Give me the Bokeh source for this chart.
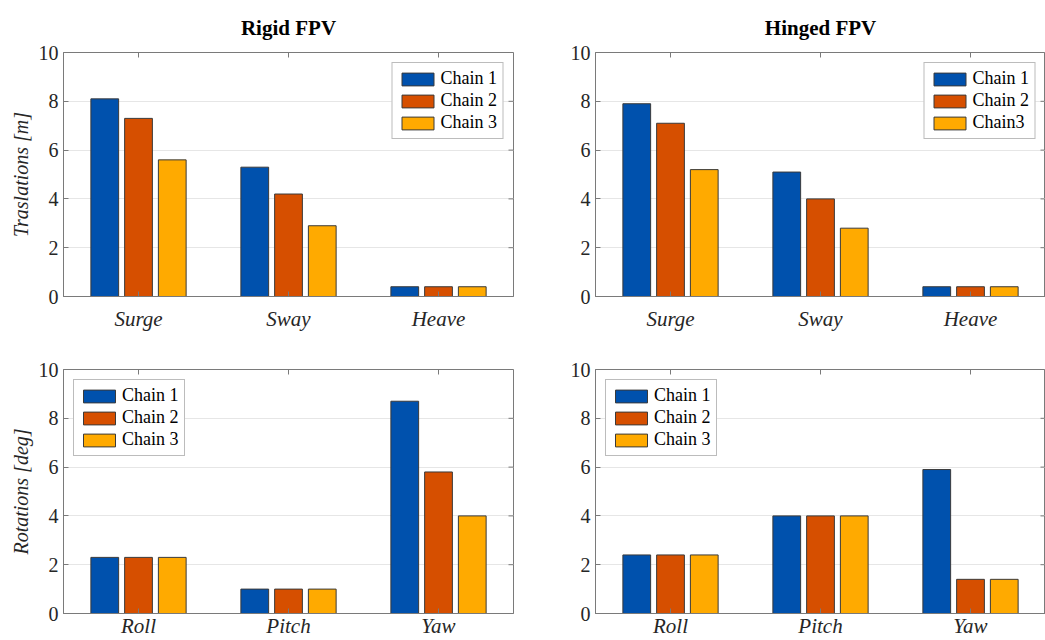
import math
from bokeh.plotting import figure
from bokeh.layouts import gridplot
from bokeh.models import (ColumnDataSource, FactorRange, Range1d, Legend, LegendItem,
                          FixedTicker)
from bokeh.transform import dodge
from bokeh.embed import file_html
from bokeh.resources import INLINE

# ---- data ----
trans_cats = ["Surge", "Sway", "Heave"]
rot_cats = ["Roll", "Pitch", "Yaw"]

rigid_trans_c1 = [8.1, 5.3, 0.4]
rigid_trans_c2 = [7.3, 4.2, 0.4]
rigid_trans_c3 = [5.6, 2.9, 0.4]

hinged_trans_c1 = [7.9, 5.1, 0.4]
hinged_trans_c2 = [7.1, 4.0, 0.4]
hinged_trans_c3 = [5.2, 2.8, 0.4]

rigid_rot_c1 = [2.3, 1.0, 8.7]
rigid_rot_c2 = [2.3, 1.0, 5.8]
rigid_rot_c3 = [2.3, 1.0, 4.0]

hinged_rot_c1 = [2.4, 4.0, 5.9]
hinged_rot_c2 = [2.4, 4.0, 1.4]
hinged_rot_c3 = [2.4, 4.0, 1.4]

y_ticks = [0, 2, 4, 6, 8, 10]
labels_std = ["Chain 1", "Chain 2", "Chain 3"]
labels_hinged_top = ["Chain 1", "Chain 2", "Chain3"]

COLORS = ["#0051AD", "#D64F00", "#FFAA00"]
FONT = "Liberation Serif"
TXT = "#262626"
FRAME = "#7a7a7a"


def make_panel(cats, c1, c2, c3, legend_labels, legend_loc, width, height,
               border_left, border_right, border_top, border_bottom,
               title=None, ylabel=None, xlabel_standoff=9):
    src = ColumnDataSource(dict(cat=cats, c1=c1, c2=c2, c3=c3))
    p = figure(x_range=FactorRange(*cats, range_padding=0), y_range=Range1d(0, 10),
               width=width, height=height, output_backend="svg",
               toolbar_location=None, min_border_left=border_left,
               min_border_right=border_right, min_border_top=border_top,
               min_border_bottom=border_bottom)
    p.background_fill_color = "white"
    p.border_fill_color = "white"
    p.outline_line_color = FRAME
    p.outline_line_width = 1

    rs = []
    offs = [-0.225, 0.0, 0.225]
    for key, off, col in zip(["c1", "c2", "c3"], offs, COLORS):
        r = p.vbar(x=dodge("cat", off, range=p.x_range), top=key, width=0.185,
                   bottom=0, source=src, fill_color=col, line_color="#3a3a3a",
                   line_width=1)
        rs.append(r)

    # grid
    p.xgrid.grid_line_color = None
    p.ygrid.grid_line_color = "#e6e6e6"
    p.ygrid.grid_line_width = 1
    p.ygrid.ticker = FixedTicker(ticks=[2, 4, 6, 8])

    # y axis
    ya = p.yaxis[0]
    ya.ticker = FixedTicker(ticks=y_ticks)
    ya.major_tick_in = 5
    ya.major_tick_out = 0
    ya.minor_tick_in = 0
    ya.minor_tick_out = 0
    ya.axis_line_color = FRAME
    ya.major_tick_line_color = FRAME
    ya.major_label_text_font = FONT
    ya.major_label_text_font_size = "20px"
    ya.major_label_text_color = TXT
    ya.major_label_standoff = 5
    if ylabel:
        ya.axis_label = ylabel
        ya.axis_label_text_font = FONT
        ya.axis_label_text_font_style = "italic"
        ya.axis_label_text_font_size = "20px"
        ya.axis_label_text_color = TXT
        ya.axis_label_standoff = 4

    # x axis
    xa = p.xaxis[0]
    xa.major_tick_in = 5
    xa.major_tick_out = 0
    xa.axis_line_color = FRAME
    xa.major_tick_line_color = FRAME
    xa.major_label_text_font = FONT
    xa.major_label_text_font_style = "italic"
    xa.major_label_text_font_size = "21px"
    xa.major_label_text_color = TXT
    xa.major_label_standoff = xlabel_standoff

    # box ticks on top and right edges (inward, screen-length rays)
    p.ray(x=cats, y=[y_ticks[-1]] * len(cats), length=5, length_units="screen",
          angle=-math.pi / 2, line_color=FRAME, line_width=1)
    p.ray(x=[len(cats)] * len(y_ticks), y=y_ticks, length=5, length_units="screen",
          angle=math.pi, line_color=FRAME, line_width=1)

    if title:
        p.title.text = title
        p.title.text_font = FONT
        p.title.text_font_style = "bold"
        p.title.text_font_size = "21px"
        p.title.text_color = "black"
        p.title.align = "center"
        p.title.standoff = 25

    items = [LegendItem(label=lab, renderers=[r]) for lab, r in zip(legend_labels, rs)]
    leg = Legend(items=items, location=legend_loc)
    leg.label_text_font = FONT
    leg.label_text_font_size = "18px"
    leg.label_text_color = "black"
    leg.glyph_width = 40
    leg.glyph_height = 16
    leg.label_height = 16
    leg.label_standoff = 3
    leg.spacing = 1
    leg.padding = 5
    leg.margin = 10
    leg.border_line_color = FRAME
    leg.border_line_width = 1
    leg.background_fill_alpha = 1
    p.add_layout(leg, "center")
    return p


p1 = make_panel(trans_cats, rigid_trans_c1, rigid_trans_c2, rigid_trans_c3,
                labels_std, "top_right", 530, 333, 63, 17, 52, 33,
                title="Rigid FPV", ylabel="Traslations [m]", xlabel_standoff=10)
p2 = make_panel(trans_cats, hinged_trans_c1, hinged_trans_c2, hinged_trans_c3,
                labels_hinged_top, "top_right", 515, 333, 65, 0, 52, 33,
                title="Hinged FPV", xlabel_standoff=10)
p3 = make_panel(rot_cats, rigid_rot_c1, rigid_rot_c2, rigid_rot_c3,
                labels_std, "top_left", 530, 307, 63, 17, 36, 27,
                ylabel="Rotations [deg]", xlabel_standoff=0)
p4 = make_panel(rot_cats, hinged_rot_c1, hinged_rot_c2, hinged_rot_c3,
                labels_std, "top_left", 515, 307, 65, 0, 36, 27,
                xlabel_standoff=0)

grid = gridplot([[p1, p2], [p3, p4]], toolbar_location=None)

with open("out.html", "w") as f:
    f.write(file_html(grid, INLINE))
